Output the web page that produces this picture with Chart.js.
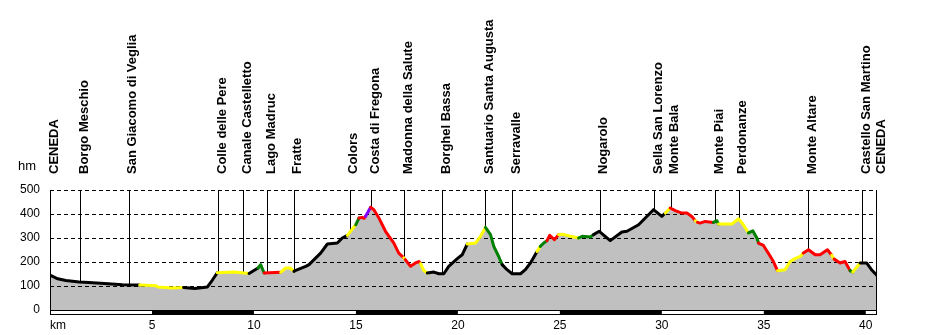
<!DOCTYPE html>
<html>
<head>
<meta charset="utf-8">
<script src="https://cdn.jsdelivr.net/npm/chart.js@4"></script>
<style>
  body { margin: 0; background: #fff; }
  canvas { display: block; }
</style>
</head>
<body>
<canvas id="profile" width="927" height="335"></canvas>
<script>
// elevation profile, km along the route and height in metres
const profileKm = [
  0, 0.38, 0.78, 1.43, 1.90, 2.66, 3.56, 4.40, 5.19, 5.30, 6.00, 6.55, 7.10, 7.72, 7.97,
  8.20, 9.03, 9.76, 10.20, 10.33, 10.50, 11.31, 11.56, 11.77, 11.96, 12.05, 12.54, 12.70,
  13.27, 13.60, 14.09, 14.33, 14.58, 14.99, 15.15, 15.31, 15.40, 15.47, 15.72, 15.88, 16.13,
  16.45, 16.86, 17.10, 17.35, 17.42, 17.68, 17.92, 18.09, 18.17, 18.33, 18.50, 18.82, 19.07,
  19.31, 19.55, 19.97, 20.21, 20.46, 20.86, 21.11, 21.35, 21.60, 21.76, 22.00, 22.17, 22.41,
  22.66, 23.07, 23.31, 23.56, 23.88, 24.04, 24.21, 24.37, 24.50, 24.73, 24.94, 25.11, 25.51,
  25.92, 26.09, 26.49, 26.65, 26.93, 27.47, 28.04, 28.29, 28.86, 29.59, 30.00, 30.17, 30.41,
  30.66, 30.98, 31.23, 31.47, 31.64, 31.75, 31.88, 32.13, 32.53, 32.70, 32.78, 33.11, 33.43,
  33.76, 34.00, 34.25, 34.46, 34.66, 34.74, 34.98, 35.22, 35.47, 35.67, 36.04, 36.29, 36.53,
  36.78, 36.94, 37.19, 37.52, 37.76, 38.12, 38.33, 38.45, 38.74, 38.98, 39.23, 39.36, 39.72,
  40.04, 40.28, 40.55
];
const profileElev = [
  145, 130, 123, 117, 115, 110, 105, 104, 101, 96, 92, 94, 90, 96, 126,
  155, 158, 152, 175, 189, 154, 157, 175, 175, 161, 165, 182, 189,
  237, 275, 279, 300, 311, 355, 383, 386, 382, 390, 428, 418, 383,
  328, 279, 237, 217, 210, 182, 196, 202, 193, 164, 154, 158, 151,
  151, 182, 214, 230, 275, 279, 307, 344, 314, 265, 223, 189, 168,
  151, 151, 168, 196, 244, 265, 279, 289, 311, 293, 314, 316, 307,
  300, 307, 304, 314, 328, 289, 325, 328, 355, 418, 390, 404, 425,
  414, 404, 404, 390, 372, 365, 362, 369, 365, 372, 358, 358, 358,
  380, 355, 321, 330, 300, 279, 269, 237, 202, 164, 168, 202, 214,
  223, 237, 251, 230, 230, 251, 228, 212, 196, 202, 164, 158, 196,
  196, 168, 144
];
// surface class of the stretch starting at each point
const profileSurface = [
  'k','k','k','k','k','k','k','y','y','y','y','k','k','k','k',
  'y','y','k','g','g','r','y','y','y','k','k','k','k',
  'k','k','k','k','y','g','r','r','r','p','r','r','r',
  'r','r','r','y','r','r','r','r','y','y','k','k','k',
  'k','k','k','k','y','y','y','g','g','g','g','k','k',
  'k','k','k','k','y','g','g','r','r','r','y','y','y',
  'g','g','g','k','k','k','k','k','k','k','k','y','r',
  'r','r','r','r','y','r','r','r','g','g','y','y','y',
  'y','y','g','g','g','r','r','r','r','y','y','y','y',
  'y','r','r','r','r','r','y','r','r','r','g','y','k',
  'k','k','k'
];

const waypointNames = [
  'CENEDA', 'Borgo Meschio', 'San Giacomo di Veglia', 'Colle delle Pere', 'Canale Castelletto',
  'Lago Madruc', 'Fratte', 'Colors', 'Costa di Fregona', 'Madonna della Salute', 'Borghel Bassa',
  'Santuario Santa Augusta', 'Serravalle', 'Nogarolo', 'Sella San Lorenzo', 'Monte Bala',
  'Monte Piai', 'Perdonanze', 'Monte Altare', 'Castello San Martino', 'CENEDA'
];
const waypointKm = [
  0, 1.48, 3.85, 8.24, 9.47, 10.66, 11.96, 14.69, 15.74, 17.37, 19.23,
  21.35, 22.66, 26.95, 29.64, 30.43, 32.63, 33.76, 37.19, 39.83, 40.55
];

const kmTicks = [5, 10, 15, 20, 25, 30, 35, 40];
const hmTicks = [0, 100, 200, 300, 400, 500];
const routeLength = 40.55;

const surfaceColors = { k: '#000000', y: '#ffff00', r: '#ff0000', g: '#008000', p: '#8000ff' };

function elevAt(km) {
  for (let i = 1; i < profileKm.length; i++) {
    if (km <= profileKm[i]) {
      const t = (km - profileKm[i - 1]) / (profileKm[i] - profileKm[i - 1]);
      return profileElev[i - 1] + t * (profileElev[i] - profileElev[i - 1]);
    }
  }
  return profileElev[profileElev.length - 1];
}

const points = profileKm.map((km, i) => ({ x: km, y: profileElev[i] }));

const overlay = {
  id: 'overlay',
  beforeDatasetsDraw(chart) {
    const { ctx, chartArea: a, scales: { x, y } } = chart;
    ctx.save();
    ctx.strokeStyle = '#000';
    ctx.lineWidth = 1;
    ctx.setLineDash([4, 3]);
    hmTicks.forEach(v => {
      if (v === 0) return;
      const py = Math.round(y.getPixelForValue(v)) + 0.5;
      ctx.beginPath();
      ctx.moveTo(a.left, py);
      ctx.lineTo(a.right, py);
      ctx.stroke();
    });
    ctx.setLineDash([]);
    waypointKm.forEach(km => {
      const px = Math.min(Math.round(x.getPixelForValue(km)) + 0.5, a.right - 0.5);
      ctx.beginPath();
      ctx.moveTo(px, a.top);
      ctx.lineTo(px, y.getPixelForValue(elevAt(km)));
      ctx.stroke();
    });
    ctx.restore();
  },
  afterDraw(chart) {
    const { ctx, chartArea: a, scales: { x } } = chart;
    ctx.save();
    // frame sides
    ctx.strokeStyle = '#000';
    ctx.lineWidth = 1;
    ctx.beginPath();
    ctx.moveTo(a.left + 0.5, a.top); ctx.lineTo(a.left + 0.5, a.bottom);
    ctx.moveTo(a.right - 0.5, a.top); ctx.lineTo(a.right - 0.5, a.bottom);
    ctx.stroke();
    // km band under the profile
    ctx.fillStyle = '#000';
    ctx.fillRect(a.left, a.bottom, a.right - a.left, 5);
    ctx.fillStyle = '#fff';
    for (let k = 0; k < routeLength; k += 5) {
      if ((k / 5) % 2 === 0) {
        const x0 = x.getPixelForValue(k) + (k === 0 ? 1 : 0);
        const x1 = x.getPixelForValue(Math.min(k + 5, routeLength)) - (k + 5 >= routeLength ? 1 : 0);
        ctx.fillRect(x0, a.bottom + 1, x1 - x0, 3);
      }
    }
    // axis captions
    ctx.fillStyle = '#000';
    ctx.font = '13px "Liberation Sans"';
    ctx.textAlign = 'left';
    ctx.textBaseline = 'alphabetic';
    ctx.fillText('hm', 18, 170);
    ctx.font = '12px "Liberation Sans"';
    ctx.fillText('km', a.left, 329);
    // waypoint names
    ctx.font = 'bold 13px "Liberation Sans"';
    waypointNames.forEach((name, i) => {
      const px = x.getPixelForValue(waypointKm[i]);
      ctx.save();
      ctx.translate(px + 7.5, 174);
      ctx.rotate(-Math.PI / 2);
      ctx.fillText(name, 0, 0);
      ctx.restore();
    });
    ctx.restore();
  }
};

new Chart(document.getElementById('profile'), {
  type: 'line',
  data: {
    datasets: [{
      // gray ground
      data: points,
      fill: 'origin',
      backgroundColor: '#c0c0c0',
      borderWidth: 0,
      pointRadius: 0,
      tension: 0,
      order: 2
    }, {
      // coloured track line
      data: points,
      fill: false,
      borderColor: '#000',
      borderWidth: 3,
      borderJoinStyle: 'round',
      borderCapStyle: 'round',
      pointRadius: 0,
      tension: 0,
      order: 1,
      segment: {
        borderColor: c => surfaceColors[profileSurface[c.p0DataIndex]]
      }
    }]
  },
  options: {
    responsive: false,
    devicePixelRatio: 1,
    animation: false,
    layout: { padding: { top: 190, right: 50, left: 0, bottom: 0 } },
    plugins: {
      legend: { display: false },
      tooltip: { enabled: false },
      filler: { drawTime: 'beforeDatasetsDraw' }
    },
    scales: {
      x: {
        type: 'linear',
        min: 0,
        max: routeLength,
        afterBuildTicks: s => { s.ticks = kmTicks.map(v => ({ value: v })); },
        afterFit: s => { s.height = 25; },
        grid: { display: false, drawTicks: false },
        border: { display: false },
        ticks: {
          autoSkip: false,
          maxRotation: 0,
          padding: 8,
          color: '#000',
          font: { family: '"Liberation Sans"', size: 12 }
        }
      },
      y: {
        min: 0,
        max: 500,
        afterBuildTicks: s => { s.ticks = hmTicks.map(v => ({ value: v })); },
        afterFit: s => { s.width = 50; },
        grid: { display: false, drawTicks: false },
        border: { display: false },
        ticks: {
          padding: 10,
          color: '#000',
          font: { family: '"Liberation Sans"', size: 12 }
        }
      }
    }
  },
  plugins: [overlay]
});
</script>
</body>
</html>
